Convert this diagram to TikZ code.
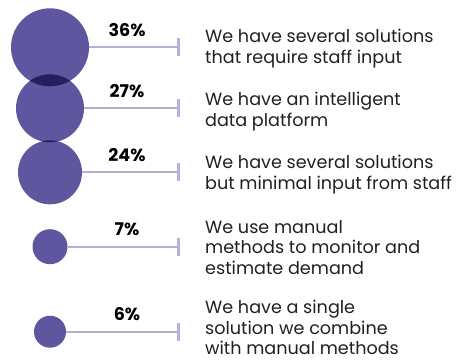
\documentclass[tikz,border=0pt]{standalone}
\usepackage{fontspec}
\setmainfont{Poppins}
\usetikzlibrary{arrows.meta}
\definecolor{dot}{HTML}{5E569E}
\definecolor{dotdark}{HTML}{241F5F}
\definecolor{rule}{HTML}{B4B0D7}
\definecolor{ink}{HTML}{231F20}
\tikzset{
  dotnode/.style={circle,fill=dot,inner sep=0pt,minimum size=#1},
  conn/.style={draw=rule,line width=2.3pt,-{Bar[width=18pt,line width=2.7pt]}},
  pct/.style={anchor=base,font=\fontsize{17.5}{19}\selectfont\bfseries,text=black,inner sep=0pt},
  desc/.style={anchor=base west,align=left,font=\fontsize{17.6}{20.5}\selectfont,text=ink,inner sep=0pt}
}
\begin{document}
\begin{tikzpicture}[x=1pt,y=-1pt]
\useasboundingbox (0,0) rectangle (456,360);
\coordinate (t1) at (180,47.3);
\coordinate (t2) at (180,108.3);
\coordinate (t3) at (180,172.3);
\coordinate (t4) at (180,246.7);
\coordinate (t5) at (180,331.7);
\node[dotnode=78pt] (c1) at (50,47.3) {};
\node[dotnode=68pt] (c2) at (50,108.3) {};
\node[dotnode=64pt] (c3) at (50,172.3) {};
\node[dotnode=35pt] (c4) at (50,246.7) {};
\node[dotnode=32pt] (c5) at (50,331.7) {};
\begin{scope}
  \clip (50,47.3) circle (39pt);
  \fill[dotdark] (50,108.3) circle (34pt);
\end{scope}
\begin{scope}
  \clip (50,108.3) circle (34pt);
  \fill[dotdark] (50,172.3) circle (32pt);
\end{scope}
\draw[conn] (c1.east) -- (t1);
\draw[conn] (c2.east) -- (t2);
\draw[conn] (c3.east) -- (t3);
\draw[conn] (c4.east) -- (t4);
\draw[conn] (c5.east) -- (t5);
\node[pct] (p1) at (127,36) {36\%};
\node[pct] (p2) at (127,97.3) {27\%};
\node[pct] (p3) at (127,161.3) {24\%};
\node[pct] (p4) at (127,235) {7\%};
\node[pct] (p5) at (127,320) {6\%};
\node[desc] (d1) at (205,63.3) {We have several solutions\\that require staff input};
\node[desc] (d2) at (205,126) {We have an intelligent\\data platform};
\node[desc] (d3) at (205,189.3) {We have several solutions\\but minimal input from staff};
\node[desc] (d4) at (205,274) {We use manual\\methods to monitor and\\estimate demand};
\node[desc] (d5) at (205,354.5) {We have a single\\solution we combine\\with manual methods};
\end{tikzpicture}
\end{document}
